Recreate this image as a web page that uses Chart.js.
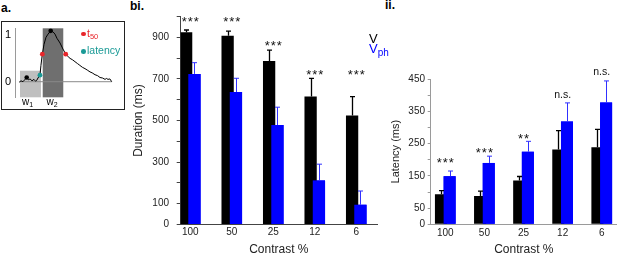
<!DOCTYPE html>
<html><head><meta charset="utf-8">
<script src="https://cdn.jsdelivr.net/npm/chart.js@4/dist/chart.umd.min.js"></script>
<style>
html,body{margin:0;padding:0;background:#fff;width:617px;height:254px;overflow:hidden;font-family:"Liberation Sans",Arial,sans-serif;}
.abs{position:absolute;}
.plabel{position:absolute;font-weight:bold;font-size:12px;line-height:12px;color:#000;}
sub{line-height:0;}
</style></head><body>
<div class="plabel" style="left:1px;top:1.5px">a.</div>
<div class="plabel" style="left:130px;top:-0.5px">bi.</div>
<div class="plabel" style="left:385px;top:-1.5px">ii.</div>

<div class="abs" style="left:1px;top:21px;width:122px;height:87px;border:1.5px solid #222;"></div>
<canvas id="ca" class="abs" style="left:0;top:0" width="130" height="120"></canvas>
<div class="abs" style="left:22px;top:96.5px;font-size:10px;line-height:10px;color:#000">w<sub style="font-size:7px;vertical-align:-2px">1</sub></div>
<div class="abs" style="left:46.5px;top:96.5px;font-size:10px;line-height:10px;color:#000">w<sub style="font-size:7px;vertical-align:-2px">2</sub></div>
<div class="abs" style="left:81px;top:31.8px;width:4.6px;height:4.6px;border-radius:50%;background:#e8262b"></div>
<div class="abs" style="left:87px;top:27.8px;font-size:10.5px;line-height:10.5px;color:#e8262b">t<sub style="font-size:7.5px;vertical-align:-2px">50</sub></div>
<div class="abs" style="left:81px;top:49.4px;width:4.6px;height:4.6px;border-radius:50%;background:#1a9a96"></div>
<div class="abs" style="left:87px;top:45.4px;font-size:10.5px;line-height:10.5px;color:#1a9a96">latency</div>

<canvas id="cb" class="abs" style="left:130px;top:0" width="255" height="254"></canvas>
<canvas id="cc" class="abs" style="left:385px;top:0" width="232" height="254"></canvas>

<div class="abs" style="left:369px;top:30.5px;font-size:13px;line-height:15px;color:#000">V</div>
<div class="abs" style="left:369px;top:41px;font-size:13px;line-height:15px;color:#0000ff">V<sub style="font-size:10px;vertical-align:-3px">ph</sub></div>

<script>
// ---------------- data ----------------
const contrast = ['100', '50', '25', '12', '6'];

// bi. Duration (ms): means and SEM
const durV      = [924, 908, 786, 615, 524];
const durVErr   = [11, 22, 52, 88, 91];
const durPh     = [724, 637, 478, 212, 95];
const durPhErr  = [54, 66, 86, 78, 66];
const durSig    = ['***', '***', '***', '***', '***'];
const durSigAt  = [988, 988, 876, 737, 737];

// ii. Latency (ms): means and SEM
const latV      = [93, 88, 136, 232, 239];
const latVErr   = [11, 15, 12, 58, 55];
const latPh     = [149, 190, 225, 318, 377];
const latPhErr  = [16, 21, 32, 58, 67];
const latSig    = ['***', '***', '**', 'n.s.', 'n.s.'];
const latSigAt  = [201, 232, 274, 400, 471];

// a. schematic trace (normalised response vs time, arbitrary units)
const traceT = [4.4,6.1,8.1,10.2,11.9,13.7,15.3,17.3,19.3,21,22.1,23.4,25.4,26.4,27.8,29.5,31.5,33.6,36.3,38.6,40.7,42.7,45.8,48.8,51.6,54,56,58.5,61,63.5,66,68.5,71.2,73.5,76.3,78.5,81.4,84,86.5,89,91.6,93,94.6,96.5,98.4];
const traceV = [-0.01,0.02,0.0,0.05,0.09,0.04,0.06,0.02,0.05,0.01,0.03,0.08,0.14,0.35,0.59,0.8,0.95,1.02,1.09,1.07,1.02,0.93,0.83,0.7,0.59,0.54,0.5,0.47,0.43,0.39,0.35,0.31,0.28,0.25,0.21,0.19,0.15,0.13,0.09,0.08,0.05,0.07,0.05,0.06,0.0];
const blackPts   = [[11.9, 0.09], [36.3, 1.09]];
const t50Pts     = [[27.8, 0.59], [51.6, 0.59]];
const latencyPts = [[25.4, 0.14]];
const windowsX   = [[5.1, 26.4], [28.2, 49.1]];
const windowsTop = [0.236, 1.145];

// ---------------- setup ----------------
Chart.defaults.font.family = "'Liberation Sans', Arial, sans-serif";
Chart.defaults.color = '#222';
const FONT = "'Liberation Sans', Arial, sans-serif";
const pts = a => a.map(p => ({x: p[0], y: p[1]}));

// ---------- panel a ----------
const winPlugin = {
  id: 'win',
  beforeDatasetsDraw(chart) {
    const {ctx, scales: {x, y}} = chart;
    const cols = ['#bfbfbf', '#6f6f6f'];
    windowsX.forEach((w, i) => {
      const x0 = x.getPixelForValue(w[0]), x1 = x.getPixelForValue(w[1]);
      const y0 = y.getPixelForValue(windowsTop[i]), y1 = y.getPixelForValue(y.min);
      ctx.fillStyle = cols[i];
      ctx.fillRect(x0, y0, x1 - x0, y1 - y0);
    });
  }
};
new Chart(document.getElementById('ca'), {
  type: 'scatter',
  data: {
    datasets: [
      {data: pts(blackPts), backgroundColor: '#000', borderWidth: 0, pointRadius: 2.3, order: 0},
      {data: pts(t50Pts), backgroundColor: '#e8262b', borderWidth: 0, pointRadius: 2.4, order: 0},
      {data: pts(latencyPts), backgroundColor: '#1a9a96', borderWidth: 0, pointRadius: 2.4, order: 0},
      {data: traceT.map((t, i) => ({x: t, y: traceV[i]})), showLine: true, pointRadius: 0,
       borderColor: '#000', borderWidth: 1, order: 1},
      {data: [{x: traceT[0], y: 0}, {x: traceT[traceT.length - 1], y: 0}], showLine: true,
       pointRadius: 0, borderColor: '#8a8a8a', borderWidth: 1, order: 2}
    ]
  },
  options: {
    responsive: false, animation: false, devicePixelRatio: 1, events: [],
    layout: {padding: {left: 0, right: 16.7, top: 28.3, bottom: 22.7}},
    plugins: {legend: {display: false}, tooltip: {enabled: false}},
    scales: {
      x: {type: 'linear', min: 0, max: 100, display: false},
      y: {type: 'linear', min: -0.334, max: 1.145,
          afterFit: s => { s.width = 15; },
          afterBuildTicks: s => { s.ticks = [{value: 0}, {value: 1}]; },
          grid: {display: false, drawTicks: false},
          border: {display: true, color: '#9a9a9a', width: 1},
          ticks: {padding: 4, color: '#000', font: {size: 11}, callback: v => String(v)}}
    }
  },
  plugins: [winPlugin]
});

// ---------- bar panels ----------
function barPlugin(errV, errPh, sig, sigAt, o) {
  return {
    id: 'errs',
    afterDatasetsDraw(chart) {
      const ctx = chart.ctx;
      const ys = chart.scales.y, xs = chart.scales.x;
      // V_ph bars on top of V bars
      ctx.save();
      chart.getDatasetMeta(1).data.forEach(el => el.draw(ctx));
      ctx.restore();
      const errs = [errV, errPh];
      [0, 1].forEach(d => {
        const meta = chart.getDatasetMeta(d);
        const vals = chart.data.datasets[d].data;
        ctx.save();
        ctx.strokeStyle = o.errCol[d];
        ctx.lineWidth = o.errW[d];
        meta.data.forEach((el, i) => {
          const top = ys.getPixelForValue(vals[i].y + errs[d][i]);
          const xx = Math.round(el.x) + 0.5;
          ctx.beginPath();
          ctx.moveTo(xx, el.y); ctx.lineTo(xx, top);
          ctx.moveTo(xx - o.cap, top); ctx.lineTo(xx + o.cap, top);
          ctx.stroke();
        });
        ctx.restore();
      });
      ctx.save();
      ctx.fillStyle = '#111';
      ctx.textAlign = 'center';
      ctx.textBaseline = 'alphabetic';
      sig.forEach((s, i) => {
        const cx = xs.getPixelForValue(i);
        const cy = ys.getPixelForValue(sigAt[i]);
        if (s.indexOf('*') >= 0) {
          ctx.font = o.starSize + 'px ' + FONT;
          try { ctx.letterSpacing = '1px'; } catch (e) {}
          ctx.fillText(s, cx + 0.5, cy + 0.565 * o.starSize);
        } else {
          ctx.font = o.nsSize + 'px ' + FONT;
          try { ctx.letterSpacing = '0px'; } catch (e) {}
          ctx.fillText(s, cx, cy + 0.26 * o.nsSize);
        }
      });
      ctx.restore();
    }
  };
}

function barChart(el, cfg) {
  return new Chart(document.getElementById(el), {
    type: 'bar',
    data: {
      datasets: [
        {label: 'V', data: cfg.v.map((y, i) => ({x: i, y})), backgroundColor: '#000',
         categoryPercentage: cfg.cp, barPercentage: cfg.bp, borderWidth: 0},
        {label: 'Vph', data: cfg.ph.map((y, i) => ({x: i, y})), backgroundColor: '#0000ff',
         categoryPercentage: cfg.cp, barPercentage: cfg.bp, borderWidth: 0}
      ]
    },
    options: {
      responsive: false, animation: false, devicePixelRatio: 1, events: [],
      layout: {padding: cfg.pad},
      plugins: {legend: {display: false}, tooltip: {enabled: false}},
      scales: {
        x: {type: 'linear', min: cfg.xmin, max: cfg.xmax, offset: false,
            afterFit: s => { s.height = cfg.xh; },
            afterBuildTicks: s => { s.ticks = contrast.map((c, i) => ({value: i})); },
            grid: {display: false, drawTicks: false, offset: false},
            border: {display: true, color: cfg.axisCol, width: 1},
            ticks: {padding: cfg.xpad, maxRotation: 0, autoSkip: false, color: '#222',
                    font: {size: 10}, callback: (v) => contrast[v]},
            title: {display: true, text: 'Contrast %', color: '#222', padding: 0,
                    font: {size: 12, lineHeight: cfg.xtlh}}},
        y: {type: 'linear', min: 0, max: cfg.ymax,
            afterFit: s => { s.width = cfg.yw; },
            grid: {display: true, drawOnChartArea: false, drawTicks: true,
                   tickLength: cfg.tl, color: cfg.axisCol, lineWidth: 1},
            border: {display: true, color: cfg.axisCol, width: 1},
            ticks: {stepSize: cfg.step, padding: cfg.ypad, autoSkip: false, color: '#222',
                    font: {size: 10}, callback: cfg.lab},
            title: {display: true, text: cfg.ytitle, color: '#222',
                    padding: {top: cfg.ytpad, bottom: 0},
                    font: {size: cfg.ytsize, lineHeight: 1.2}}}
      }
    },
    plugins: [barPlugin(cfg.ve, cfg.phe, cfg.sig, cfg.sigAt,
      {errCol: ['#000', '#3030ff'], errW: [1.3, 1], cap: 2.5, starSize: 13, nsSize: 10.5})]
  });
}

barChart('cb', {
  v: durV, ph: durPh, ve: durVErr, phe: durPhErr, sig: durSig, sigAt: durSigAt,
  cp: 0.4, bp: 1.48, pad: {left: 0, right: 8, top: 16.5, bottom: 0},
  xmin: -0.231, xmax: 4.5, xh: 29.5, xpad: 1.5, xtlh: 0.78, axisCol: '#444',
  ymax: 1000, yw: 50.7, tl: 4, step: 100, ypad: 7.7,
  lab: v => (v === 0 || (v / 100) % 2 === 1) ? String(v) : '',
  ytitle: 'Duration (ms)', ytpad: 1.1, ytsize: 12
});

barChart('cc', {
  v: latV, ph: latPh, ve: latVErr, phe: latPhErr, sig: latSig, sigAt: latSigAt,
  cp: 0.445, bp: 1.38, pad: {left: 0, right: 0, top: 79, bottom: 0},
  xmin: -0.373, xmax: 4.39, xh: 29.7, xpad: 3, xtlh: 0.7, axisCol: '#9a9a9a',
  ymax: 450, yw: 45.7, tl: 3, step: 50, ypad: 2.7,
  lab: v => (v === 0 || (v - 50) % 100 === 0) ? String(v) : '',
  ytitle: 'Latency (ms)', ytpad: 4.4, ytsize: 11
});
</script>
</body></html>
